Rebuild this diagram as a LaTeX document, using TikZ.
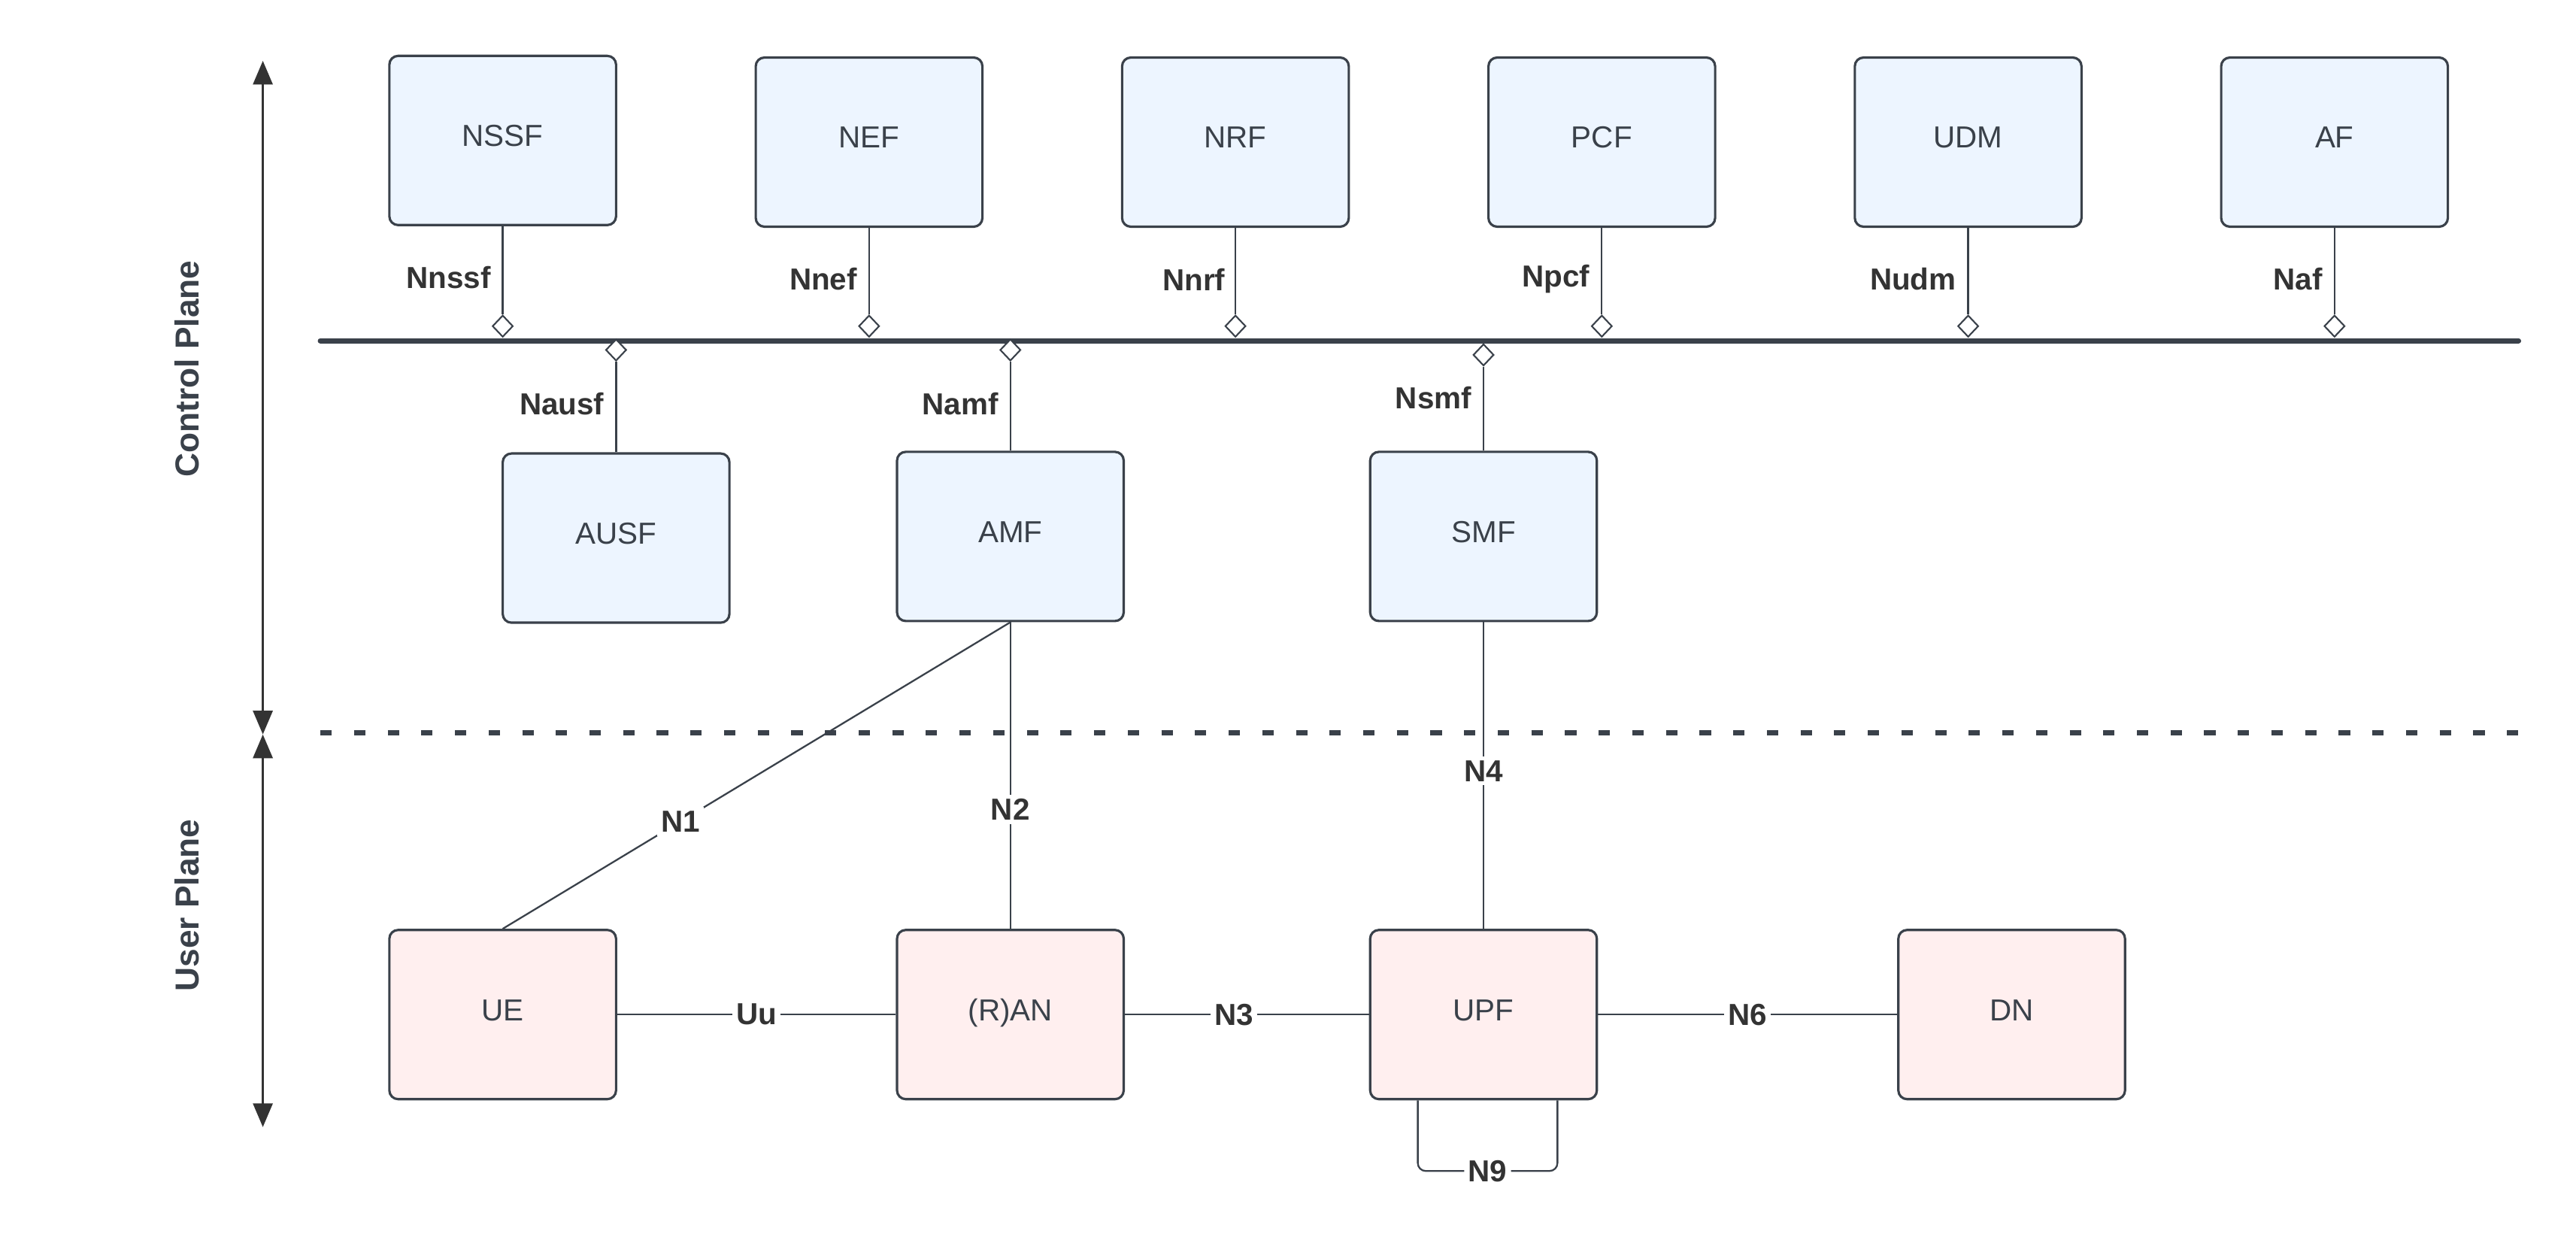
\documentclass[tikz,border=0pt]{standalone}
\usepackage{fontspec}
\setmainfont{Liberation Sans}
\usetikzlibrary{arrows.meta,shapes.geometric,calc}
\definecolor{ink}{HTML}{3A414A}
\definecolor{lbl}{HTML}{333333}
\definecolor{cpfill}{HTML}{EDF5FF}
\definecolor{upfill}{HTML}{FFEFEF}

\begin{document}
\begin{tikzpicture}[x=0.021849cm,y=-0.021849cm,
  nf/.style={draw=ink,line width=0.9pt,rounded corners=3.3pt,
    minimum width=3.015cm,minimum height=2.25cm,inner sep=0pt,
    text=ink,font=\fontsize{11.5}{14}\selectfont,text height=8pt,text depth=3.5pt},
  cpnf/.style={nf,fill=cpfill},
  upnf/.style={nf,fill=upfill},
  ref/.style={text=lbl,font=\bfseries\fontsize{11.5}{14}\selectfont,inner sep=0pt,anchor=east},
  onl/.style={text=lbl,font=\bfseries\fontsize{11.5}{14}\selectfont,fill=white,inner sep=1.5pt},
  port/.style={draw=ink,fill=white,shape=diamond,line width=0.6pt,
    minimum width=0.275cm,minimum height=0.29cm,inner sep=0pt},
  link/.style={draw=ink,line width=0.65pt},
  plane/.style={text=ink,font=\bfseries\fontsize{12.6}{15}\selectfont,rotate=90},
  span/.style={draw=lbl,line width=0.9pt,{Triangle[width=7.4pt,length=9pt]}-{Triangle[width=7.4pt,length=9pt]}}
]
\useasboundingbox (0,0) rectangle (1568,758);

% service bus and the plane divider
\coordinate (busw) at (195,207.4);
\coordinate (buse) at (1533,207.4);
\coordinate (divw) at (195,445.8);
\coordinate (dive) at (1533,445.8);
\draw[ink,line width=2pt,line cap=round] (busw) -- (buse);
\draw[ink,line width=2pt,dash pattern=on 4.3pt off 8.43pt] (divw) -- (dive);

% plane extents
\coordinate (ctop) at (160,37);
\coordinate (cmid) at (160,447);
\coordinate (ubot) at (160,686);
\draw[span] (cmid) -- (ctop);
\draw[span] (cmid) -- (ubot);
\node[plane] (cpl) at (114,224.5) {Control Plane};
\node[plane] (upl) at (114,551) {User Plane};

% control plane functions
\node[cpnf] (nssf) at (306,85.5) {NSSF};
\node[cpnf] (nef)  at (529,86.5) {NEF};
\node[cpnf] (nrf)  at (752,86.5) {NRF};
\node[cpnf] (pcf)  at (975,86.5) {PCF};
\node[cpnf] (udm)  at (1198,86.5) {UDM};
\node[cpnf] (af)   at (1421,86.5) {AF};
\node[cpnf] (ausf) at (375,327.5) {AUSF};
\node[cpnf] (amf)  at (615,326.5) {AMF};
\node[cpnf] (smf)  at (903,326.5) {SMF};

% user plane functions
\node[upnf] (ue)  at (306,617.5) {UE};
\node[upnf] (ran) at (615,617.5) {(R)AN};
\node[upnf] (upf) at (903,617.5) {UPF};
\node[upnf] (dn)  at (1224.5,617.5) {DN};

% bus attachment points
\node[port] (pnssf) at (306,198.5) {};
\node[port] (pnef)  at (529,198.5) {};
\node[port] (pnrf)  at (752,198.5) {};
\node[port] (ppcf)  at (975,198.5) {};
\node[port] (pudm)  at (1198,198.5) {};
\node[port] (paf)   at (1421,198.5) {};
\node[port] (pausf) at (375,213) {};
\node[port] (pamf)  at (615,213) {};
\node[port] (psmf)  at (903,216) {};

% service-based interfaces
\draw[link] (nssf.south) -- (pnssf.north);
\draw[link] (nef.south) -- (pnef.north);
\draw[link] (nrf.south) -- (pnrf.north);
\draw[link] (pcf.south) -- (ppcf.north);
\draw[link] (udm.south) -- (pudm.north);
\draw[link] (af.south) -- (paf.north);
\draw[link] (ausf.north) -- (pausf.south);
\draw[link] (amf.north) -- (pamf.south);
\draw[link] (smf.north) -- (psmf.south);

\node[ref] (lnssf) at (299,169) {Nnssf};
\node[ref] (lnef)  at (522,170) {Nnef};
\node[ref] (lnrf)  at (746,170) {Nnrf};
\node[ref] (lnpcf) at (968,170) {Npcf};
\node[ref] (lnudm) at (1191,170) {Nudm};
\node[ref] (lnaf)  at (1414,170) {Naf};
\node[ref] (lnausf) at (368,246) {Nausf};
\node[ref] (lnamf)  at (608,246) {Namf};
\node[ref] (lnsmf)  at (896,242) {Nsmf};

% reference points
\draw[link] (amf.south) -- node[onl,pos=0.65] {N1} (ue.north);
\draw[link] (amf.south) -- node[onl,pos=0.61] {N2} (ran.north);
\draw[link] (smf.south) -- node[onl,pos=0.485] {N4} (upf.north);
\draw[link] (ue.east) -- node[onl] {Uu} (ran.west);
\draw[link] (ran.east) -- node[onl,pos=0.447] {N3} (upf.west);
\draw[link] (upf.east) -- node[onl] {N6} (dn.west);
\draw[link,rounded corners=3pt] ($(upf.south)+(-40,0)$) -- ++(0,43)
  -- node[onl] {N9} ++(85,0) -- ++(0,-43);
\end{tikzpicture}
\end{document}
